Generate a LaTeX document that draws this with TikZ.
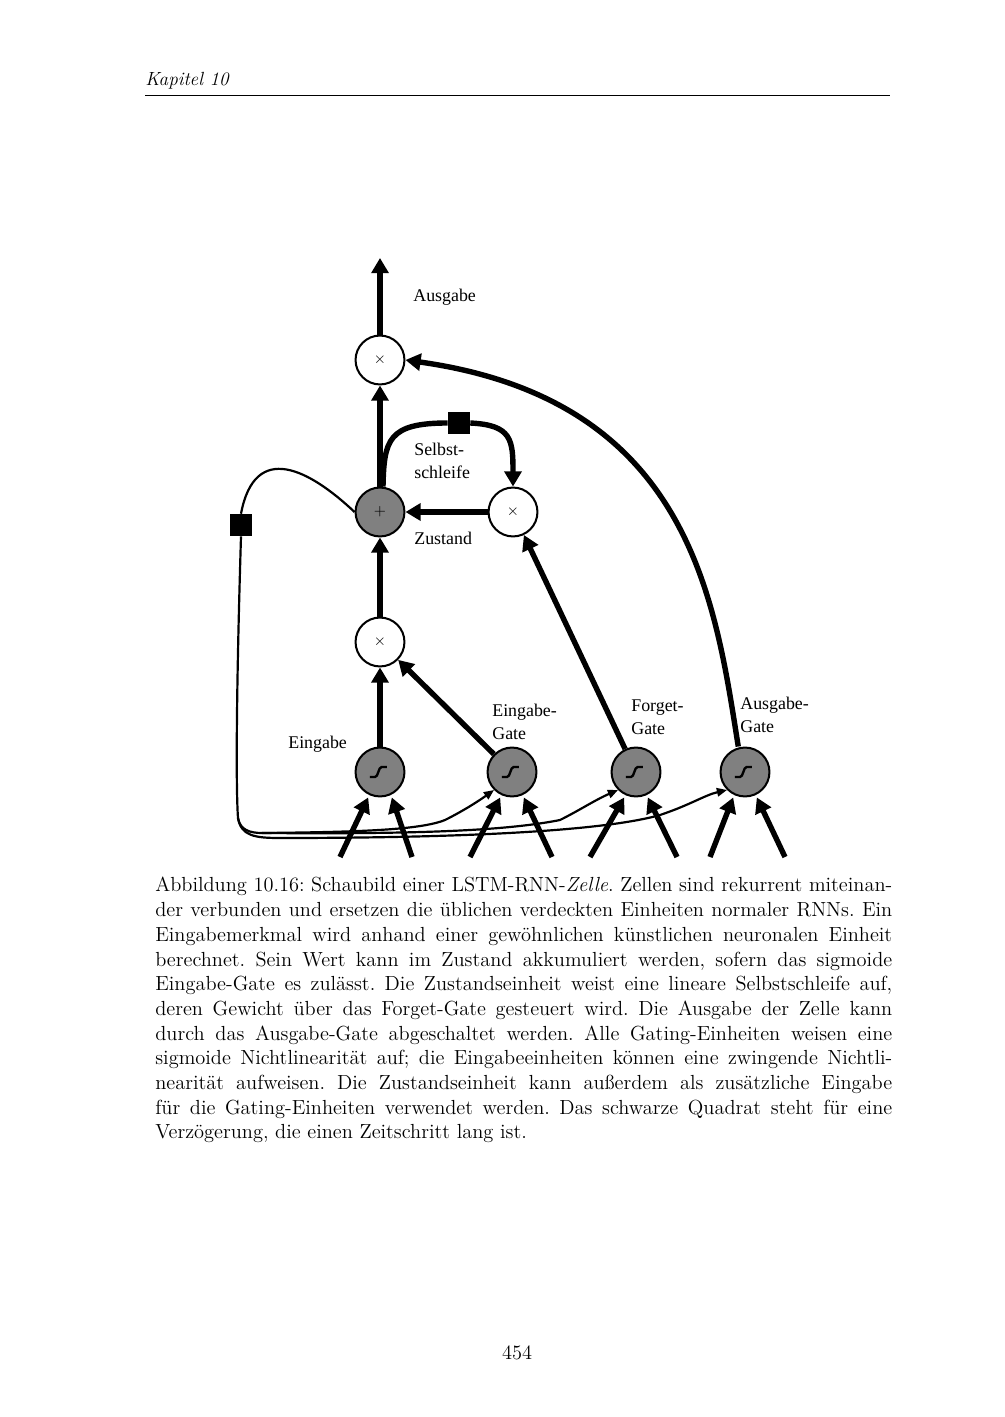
\documentclass[tikz,border=0pt]{standalone}
\usepackage{fontspec}
\newfontfamily\figfont{Liberation Serif}
\usetikzlibrary{positioning,arrows.meta}

\begin{document}
\begin{tikzpicture}[x=0.593pt,y=-0.593pt,
    unit/.style={circle,draw,line width=1.2pt,minimum size=29pt,inner sep=0pt,font=\figfont\small},
    gray unit/.style={unit,fill=black!50},
    thick arrow/.style={line width=3.2pt,-{Triangle[length=9pt,width=10pt]}},
    thin arrow/.style={line width=1.3pt,-{Triangle[length=6pt,width=5pt]}},
    delay/.style={fill=black,minimum size=13pt,inner sep=0pt},
    lbl/.style={font=\figfont\fontsize{10.6}{13.6}\selectfont,anchor=west,align=left,inner sep=0pt}]
  \useasboundingbox (0,0) rectangle (1004,1417);
  % page header
  \node[anchor=base west,inner sep=0pt,font=\itshape\fontsize{11.3}{13}\selectfont] (head) at (145,86) {Kapitel 10};
  \draw[line width=0.5pt] (145,95) -- (890,95);
  % units
  \node[unit] (OutMul) at (380,360) {$\times$};
  \node[gray unit] (Sum) at (380,512) {$+$};
  \node[unit] (SelfMul) at (513,512) {$\times$};
  \node[unit] (InMul) at (380,642) {$\times$};
  \foreach \n/\x in {In/380,InGate/512,ForgetGate/636,OutGate/745}{
    \node[gray unit] (\n) at (\x,772) {};
    \draw[line width=1.4pt] ([xshift=-6pt,yshift=-3pt]\n.center) -- ++(3pt,0)
       .. controls +(2pt,0) and +(-2pt,0) .. ++(4pt,6pt) -- ++(3pt,0);
  }
  \coordinate (Top) at (380,258);
  % labels
  \node[lbl] (lAus) at (413,297) {Ausgabe};
  \node[lbl] (lSelf) at (414,461) {Selbst-\\schleife};
  \node[lbl] (lZus) at (414,538) {Zustand};
  \node[lbl] (lIn) at (288,744) {Eingabe};
  \node[lbl] (lInG) at (492,722) {Eingabe-\\Gate};
  \node[lbl] (lFG) at (631,717) {Forget-\\Gate};
  \node[lbl] (lOG) at (740,715) {Ausgabe-\\Gate};
  % main path
  \draw[thick arrow] (OutMul) -- (Top);
  \draw[thick arrow] (Sum) -- (OutMul);
  \draw[thick arrow] (InMul) -- (Sum);
  \draw[thick arrow] (In) -- (InMul);
  \draw[thick arrow] (InGate) -- (InMul);
  \draw[thick arrow] (ForgetGate) -- (SelfMul);
  \draw[thick arrow] (SelfMul) -- (Sum);
  \draw[thick arrow] ([xshift=-4pt]OutGate.north) .. controls (715,600) and (690,400) .. (OutMul.east);
  % self loop
  \node[delay] (SelfDelay) at (459,423) {};
  \draw[line width=3.2pt] (Sum.north) ++(3,0) .. controls (384,440) and (388,423) .. (SelfDelay.west);
  \draw[thick arrow] (SelfDelay.east) .. controls (512,425) and (513,440) .. (SelfMul.north);
  % state feedback to gates
  \node[delay] (StateDelay) at (241,525) {};
  \coordinate (Corner) at (262,833);
  \draw[line width=1.3pt] (Sum.west) .. controls (310,470) and (255,440) .. (StateDelay.north);
  \draw[line width=1.3pt] (StateDelay.south) .. controls (236,700) and (236,790) .. (238,818)
      .. controls (240,830) and (250,833) .. (Corner);
  \draw[thin arrow] (Corner) .. controls (360,832) and (420,830) .. (445,820)
      .. controls (465,810) and (480,800) .. (InGate.south west);
  \draw[thin arrow] (Corner) .. controls (400,834) and (500,832) .. (560,820)
      .. controls (580,810) and (595,800) .. (ForgetGate.south west);
  \draw[line width=1.3pt] (238,818) .. controls (241,836) and (255,838) .. (280,838);
  \draw[thin arrow] (280,838) .. controls (450,838) and (600,832) .. (660,815)
      .. controls (690,805) and (705,795) .. (OutGate.south west);
  % inputs
  \foreach \n/\a/\b in {In/340/412,InGate/470/552,ForgetGate/590/677,OutGate/710/785}{
    \coordinate (\n-a) at (\a,857);
    \coordinate (\n-b) at (\b,857);
    \draw[thick arrow] (\n-a) -- ([xshift=-7pt]\n.south);
    \draw[thick arrow] (\n-b) -- ([xshift=7pt]\n.south);
  }
  % caption
  \node[anchor=north west,inner sep=0pt,text width=437pt,align=justify,
        font=\frenchspacing\fontsize{12.1}{14.65}\selectfont] (caption) at (155,877)
  {Abbildung 10.16: Schaubild einer LSTM-RNN-\textit{Zelle}. Zellen sind rekurrent miteinan-\linebreak
  der verbunden und ersetzen die üblichen verdeckten Einheiten normaler RNNs. Ein\linebreak
  Eingabemerkmal wird anhand einer gewöhnlichen künstlichen neuronalen Einheit\linebreak
  berechnet. Sein Wert kann im Zustand akkumuliert werden, sofern das sigmoide\linebreak
  Eingabe-Gate es zulässt. Die Zustandseinheit weist eine lineare Selbstschleife auf,\linebreak
  deren Gewicht über das Forget-Gate gesteuert wird. Die Ausgabe der Zelle kann\linebreak
  durch das Ausgabe-Gate abgeschaltet werden. Alle Gating-Einheiten weisen eine\linebreak
  sigmoide Nichtlinearität auf; die Eingabeeinheiten können eine zwingende Nichtli-\linebreak
  nearität aufweisen. Die Zustandseinheit kann außerdem als zusätzliche Eingabe\linebreak
  für die Gating-Einheiten verwendet werden. Das schwarze Quadrat steht für eine\linebreak
  Verzögerung, die einen Zeitschritt lang ist.};
  \node[anchor=base,inner sep=0pt,font=\fontsize{12.1}{14}\selectfont] (pageno) at (517,1359) {454};
\end{tikzpicture}
\end{document}
